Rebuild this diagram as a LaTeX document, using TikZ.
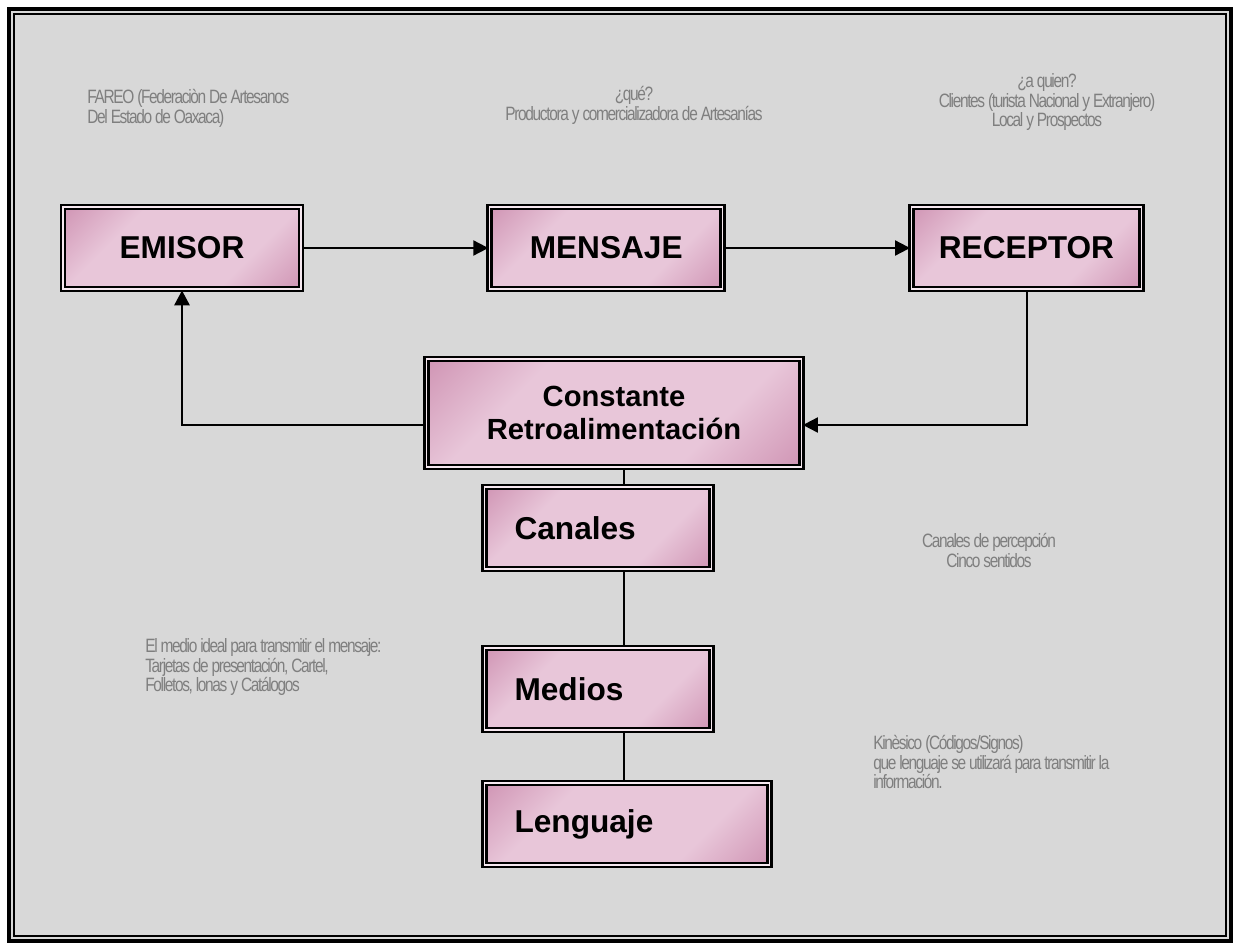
\documentclass[tikz,border=0pt]{standalone}
\usepackage{fontspec}
\setmainfont{Liberation Sans}
\newfontfamily\notefont[FakeStretch=0.8,LetterSpace=-7]{Liberation Sans}
\usetikzlibrary{positioning,arrows.meta,calc}
\definecolor{cBack}{HTML}{D8D8D8}
\definecolor{cNote}{HTML}{7F7F7F}
\definecolor{cPink}{HTML}{E8C6D9}
\definecolor{cPlum}{HTML}{9E2F68}
\pgfdeclarehorizontalshading{pinkband}{100bp}{color(0bp)=(cPlum); color(16bp)=(cPink!70!cPlum);
  color(33bp)=(cPink); color(67bp)=(cPink); color(84bp)=(cPink!70!cPlum); color(100bp)=(cPlum)}
\tikzset{
  >={Triangle[length=3mm,width=3mm]},
  cbox/.style={rectangle,draw=black,line width=1.6pt,double=cPink!40!white,double distance=0.7pt,
               shade,shading=pinkband,shading angle=-45,inner sep=0pt,minimum height=1.64cm,
               font=\fontsize{18}{20}\selectfont\bfseries},
  cside/.style={cbox,align=left,inner xsep=0.6cm,text width=3.34cm},
  cnote/.style={font=\notefont\fontsize{11}{11.2}\selectfont,text=cNote,inner sep=0pt},
  car/.style={->,line width=1.1pt},
  cln/.style={line width=1.1pt},
}

\begin{document}
\begin{tikzpicture}[x=0.02cm,y=-0.02cm]
  \useasboundingbox[fill=white] (0,0) rectangle (1240,950);
  \draw[line width=2pt,fill=cBack] (9,9) rectangle (1231,941);
  \draw[line width=1pt] (14,14) rectangle (1226,936);
  % fila superior
  \node[cbox,minimum width=4.76cm] (em) at (182,248) {EMISOR};
  \node[cbox,minimum width=4.66cm,right=3.72cm of em] (me) {MENSAJE};
  \node[cbox,minimum width=4.6cm,right=3.72cm of me] (re) {RECEPTOR};
  % columna central
  \node[cbox,minimum width=7.5cm,minimum height=2.16cm,align=center,
        font=\fontsize{16.6}{19}\selectfont\bfseries] (rt) at (614,413)
        {Constante\\Retroalimentación};
  \node[cside] (ca) at (598,528) {Canales};
  \node[cside] (md) at (598,689) {Medios};
  \node[cside,text width=4.5cm] (le) at (627,824) {Lenguaje};
  % conectores
  \coordinate (fR) at (1027,425);
  \coordinate (fL) at (182,425);
  \coordinate (ax) at (624,0);
  \draw[car] (em) -- (me);
  \draw[car] (me) -- (re);
  \draw[car] (re.south -| fR) |- (rt.east |- fR);
  \draw[car,line width=1.7pt] (rt.west |- fL) -| (em.south);
  \draw[cln] (rt.south -| ax) -- (ca.north -| ax);
  \draw[cln] (ca.south -| ax) -- (md.north -| ax);
  \draw[cln] (md.south -| ax) -- (le.north -| ax);
  % notas
  \node[cnote,anchor=north west,align=left] (n1) at (87,89)
       {FAREO (Federaciòn De Artesanos\\Del Estado de Oaxaca)};
  \node[cnote,anchor=north,align=center] (n2) at (634,86)
       {¿qué?\\Productora y comercializadora de Artesanías};
  \node[cnote,anchor=north,align=center] (n3) at (1047,73)
       {¿a quien?\\Clientes (turista Nacional y Extranjero)\\Local y Prospectos};
  \node[cnote,anchor=north,align=center] (n4) at (989,533)
       {Canales de percepción\\Cinco sentidos};
  \node[cnote,anchor=north west,align=left] (n5) at (145,638)
       {El medio ideal para transmitir el mensaje:\\Tarjetas de presentación, Cartel,\\Folletos, lonas y Catálogos};
  \node[cnote,anchor=north west,align=left] (n6) at (873,735)
       {Kinèsico (Códigos/Signos)\\que lenguaje se utilizará para transmitir la\\información.};
\end{tikzpicture}
\end{document}
